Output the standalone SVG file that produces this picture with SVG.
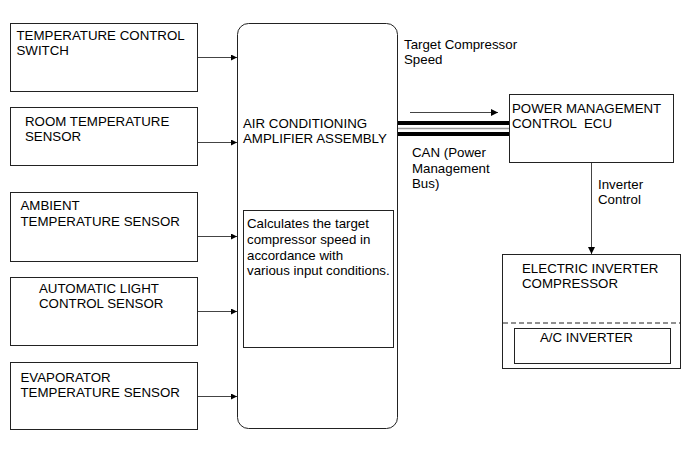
<svg xmlns="http://www.w3.org/2000/svg" width="691" height="465" viewBox="0 0 691 465">
<style>
.box{fill:#fff;stroke:#222;stroke-width:1}
.t{font-family:"Liberation Sans",Arial,sans-serif;font-size:13.3px;fill:#000}
.c{stroke:#444;stroke-width:1;fill:none}
</style>
<defs>
<marker id="ah" viewBox="0 0 10 10" refX="10" refY="5" markerWidth="10" markerHeight="6" markerUnits="userSpaceOnUse" orient="auto">
<path d="M0,0 L10,5 L0,10 Z" fill="#000"/>
</marker>
<marker id="ah2" viewBox="0 0 10 10" refX="10" refY="5" markerWidth="11" markerHeight="7" markerUnits="userSpaceOnUse" orient="auto">
<path d="M0,0 L10,5 L0,10 Z" fill="#000"/>
</marker>
</defs>
<rect width="691" height="465" fill="#fff"/>
<g id="temp-control-switch">
<rect class="box" x="10.5" y="23.5" width="187" height="68"/>
<text class="t" x="16.5" y="40">TEMPERATURE CONTROL</text>
<text class="t" x="16.5" y="55">SWITCH</text>
</g>
<g id="room-temp-sensor">
<rect class="box" x="10.5" y="107.5" width="187" height="58"/>
<text class="t" x="25" y="126">ROOM TEMPERATURE</text>
<text class="t" x="25" y="141">SENSOR</text>
</g>
<g id="ambient-temp-sensor">
<rect class="box" x="10.5" y="192.5" width="187" height="69"/>
<text class="t" x="20.5" y="210">AMBIENT</text>
<text class="t" x="20.5" y="225.5">TEMPERATURE SENSOR</text>
</g>
<g id="auto-light-sensor">
<rect class="box" x="10.5" y="277.5" width="187" height="68"/>
<text class="t" x="39" y="293">AUTOMATIC LIGHT</text>
<text class="t" x="39" y="308">CONTROL SENSOR</text>
</g>
<g id="evaporator-temp-sensor">
<rect class="box" x="10.5" y="362.5" width="187" height="67"/>
<text class="t" x="20.5" y="381.5">EVAPORATOR</text>
<text class="t" x="20.5" y="397">TEMPERATURE SENSOR</text>
</g>
<g id="ac-amplifier">
<rect class="box" x="237.5" y="23.5" width="160" height="405" rx="11" ry="11"/>
<text class="t" x="243" y="128">AIR CONDITIONING</text>
<text class="t" x="243" y="143">AMPLIFIER ASSEMBLY</text>
<rect class="box" x="243.5" y="210.5" width="150" height="137"/>
<text class="t" x="247" y="228">Calculates the target</text>
<text class="t" x="247" y="244">compressor speed in</text>
<text class="t" x="247" y="259.5">accordance with</text>
<text class="t" x="247" y="275">various input conditions.</text>
</g>
<g id="power-management-ecu">
<rect class="box" x="509.5" y="94.5" width="164" height="68"/>
<text class="t" x="512" y="113">POWER MANAGEMENT</text>
<text class="t" x="512" y="128" style="white-space:pre">CONTROL  ECU</text>
</g>
<g id="electric-inverter-compressor">
<rect class="box" x="502.5" y="254.5" width="178" height="114"/>
<text class="t" x="522" y="273">ELECTRIC INVERTER</text>
<text class="t" x="522" y="288">COMPRESSOR</text>
<line x1="503" y1="323" x2="680" y2="323" stroke="#222" stroke-width="1" stroke-dasharray="5,3"/>
<rect class="box" x="514.5" y="328.5" width="156" height="35"/>
<text class="t" x="540" y="342">A/C INVERTER</text>
</g>
<g id="connectors">
<line class="c" x1="198" y1="57.5" x2="237" y2="57.5" marker-end="url(#ah)"/>
<line class="c" x1="198" y1="142.5" x2="237" y2="142.5" marker-end="url(#ah)"/>
<line class="c" x1="198" y1="236.5" x2="237" y2="236.5" marker-end="url(#ah)"/>
<line class="c" x1="198" y1="311.5" x2="237" y2="311.5" marker-end="url(#ah)"/>
<line class="c" x1="198" y1="396.5" x2="237" y2="396.5" marker-end="url(#ah)"/>
<line x1="398" y1="123" x2="509" y2="123" stroke="#000" stroke-width="4.2"/>
<line x1="398" y1="128.5" x2="509" y2="128.5" stroke="#999" stroke-width="1.6"/>
<line x1="398" y1="134" x2="509" y2="134" stroke="#000" stroke-width="4.2"/>
<line class="c" x1="410" y1="112.5" x2="498" y2="112.5" stroke="#000" marker-end="url(#ah2)"/>
<line class="c" x1="591.5" y1="163" x2="591.5" y2="254" marker-end="url(#ah2)"/>
<text class="t" x="404" y="49">Target Compressor</text>
<text class="t" x="404" y="64">Speed</text>
<text class="t" x="412" y="157">CAN (Power</text>
<text class="t" x="412" y="172.5">Management</text>
<text class="t" x="412" y="188">Bus)</text>
<text class="t" x="598" y="189">Inverter</text>
<text class="t" x="598" y="204">Control</text>
</g>
</svg>
